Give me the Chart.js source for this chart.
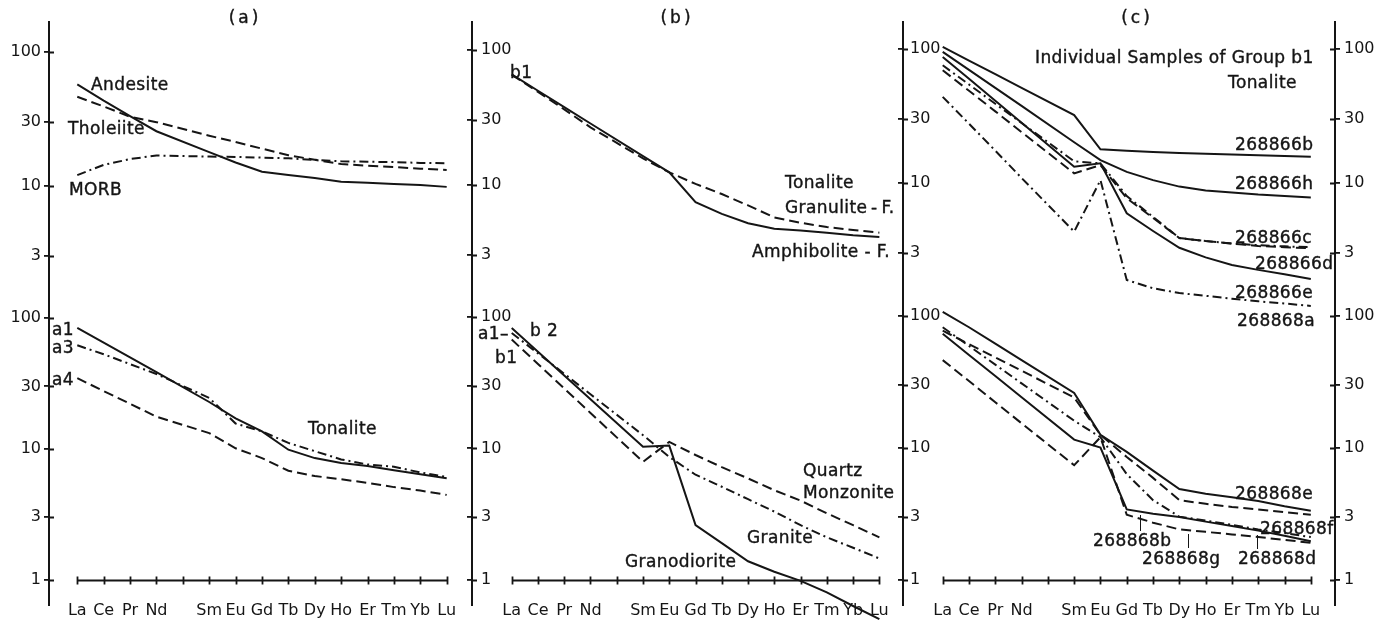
<!DOCTYPE html>
<html>
<head>
<meta charset="utf-8">
<script src="https://cdn.jsdelivr.net/npm/chart.js@4.4.1/dist/chart.umd.min.js"></script>
<style>
  html, body { margin: 0; padding: 0; background: #fff; }
  #wrap { position: relative; width: 1394px; height: 622px; overflow: hidden;
          font-family: "DejaVu Sans", sans-serif; color: #151515; }
  #wrap canvas { position: absolute; }
  .lbl { position: absolute; font-size: 17px; line-height: 18px; letter-spacing: 0.4px; white-space: pre;
         -webkit-text-stroke: 0.4px #151515; transform: translateY(-50%); }
  .lbl.c { transform: translate(-50%, -50%); letter-spacing: 3px; }
  .lead { position: absolute; width: 0; border-left: 1.6px solid #151515; }
</style>
</head>
<body>
<div id="wrap">
  <canvas id="aTop"></canvas>
  <canvas id="aBot"></canvas>
  <canvas id="bTop"></canvas>
  <canvas id="bBot"></canvas>
  <canvas id="cTop"></canvas>
  <canvas id="cBot"></canvas>
</div>
<script>
// 共通
const INK = "#151515";
const FONT = { family: "DejaVu Sans", size: 16 };

// 元素（Pm はデータなし）
const ELEMENTS = ["La", "Ce", "Pr", "Nd", "Pm", "Sm", "Eu", "Gd", "Tb", "Dy", "Ho", "Er", "Tm", "Yb", "Lu"];
const X_LABELS = ["La", "Ce", "Pr", "Nd", "", "Sm", "Eu", "Gd", "Tb", "Dy", "Ho", "Er", "Tm", "Yb", "Lu"];
const Y_TICKS = [1, 3, 10, 30, 100];

// 線種
const SOLID = [];
const DASHED = [10, 5];
const DASHDOT = [9, 4, 2, 4];

// (a) 上段
const andesite = [57, 43.1, 33.1, 25.5, null, 17.8, 14.9, 12.7, 12.0, 11.4, 10.7, 10.5, 10.3, 10.1, 9.8];
const tholeiite = [46.1, 39.0, 32.7, 29.8, null, 23.6, 21.2, 18.9, 16.9, 15.6, 14.5, 14.1, 13.8, 13.4, 13.1];
const morb = [12.0, 14.3, 15.8, 16.8, null, 16.5, 16.4, 16.2, 16.0, 15.6, 15.2, 15.1, 15.0, 14.8, 14.7];

// (a) 下段 Tonalite
const a1 = [84, 64.8, 50.0, 38.5, null, 22.8, 17.1, 13.6, 9.85, 8.5, 7.8, 7.4, 6.85, 6.4, 5.95];
const a3 = [61.8, 52.8, 44.4, 37.3, null, 24.5, 15.6, 13.6, 11.1, 9.6, 8.3, 7.6, 7.3, 6.6, 6.1];
const a4 = [34.7, 27.6, 22.1, 17.6, null, 13.2, 10.1, 8.5, 6.8, 6.2, 5.85, 5.5, 5.1, 4.8, 4.45];

// (b) 上段 Tonalite b1
const amphiboliteF = [65.4, 49.5, 37.4, 28.3, null, 16.2, 12.3, 7.4, 6.06, 5.16, 4.7, 4.57, 4.4, 4.2, 4.08];
const granuliteF = [65, 48.5, 36, 26.5, null, 15.6, 12.3, 10.1, 8.5, 7.0, 5.7, 5.2, 4.85, 4.6, 4.4];

// (b) 下段
const granodiorite = [82.6, 54.5, 35.9, 23.7, null, 10.3, 10.5, 2.6, 1.9, 1.38, 1.15, 0.98, 0.8, 0.63, 0.5];
const granite = [75.7, 52.9, 37, 25.8, null, 12.6, 8.6, 6.3, 5.1, 4.1, 3.3, 2.6, 2.1, 1.75, 1.45];
const quartzMonzonite = [67.4, 43.9, 28.6, 18.6, null, 7.9, 11.2, 8.9, 7.2, 5.9, 4.8, 4.0, 3.2, 2.6, 2.1];

// (c) 上段 268866
const s268866b = [103, 81.4, 64.4, 51.0, null, 32.0, 17.8, 17.4, 17.0, 16.7, 16.5, 16.3, 16.1, 15.9, 15.7];
const s268866h = [94.4, 69.3, 50.9, 37.4, null, 20.1, 14.8, 12.1, 10.5, 9.4, 8.8, 8.5, 8.2, 8.0, 7.8];
const s268866d = [86.6, 59.5, 40.9, 28.1, null, 13.2, 14.0, 5.95, 4.4, 3.3, 2.8, 2.46, 2.26, 2.1, 1.93];
const s268866c = [69, 48.5, 34.1, 23.9, null, 11.8, 13.6, 7.7, 5.5, 3.9, 3.7, 3.55, 3.4, 3.33, 3.27];
const s268868a = [75, 54, 38.8, 27.9, null, 14.5, 14.0, 8.0, 5.6, 3.9, 3.7, 3.55, 3.45, 3.38, 3.33];
const s268866e = [43.7, 27.6, 17.4, 10.9, null, 4.35, 10.5, 1.9, 1.65, 1.52, 1.45, 1.38, 1.32, 1.27, 1.22];

// (c) 下段 268868
const s268868e = [107, 81.8, 61.4, 46.1, null, 26.0, 12.5, 9.3, 6.7, 4.86, 4.48, 4.2, 3.94, 3.6, 3.33];
const s268868f = [77, 61, 48.3, 38.3, null, 24, 12.5, 8.5, 5.9, 4.0, 3.75, 3.55, 3.4, 3.25, 3.1];
const s268868d = [81.8, 59.0, 42.6, 30.7, null, 16, 12.0, 6.3, 4.0, 3.0, 2.8, 2.6, 2.4, 2.25, 2.1];
const s268868b = [73, 50.4, 34.9, 24.1, null, 11.5, 10.0, 3.4, 3.15, 2.98, 2.75, 2.55, 2.35, 2.15, 1.95];
const s268868g = [46.1, 32.0, 22.1, 15.3, null, 7.36, 12.0, 3.1, 2.7, 2.4, 2.3, 2.2, 2.1, 2.0, 1.9];

// パネル配置
const AXIS_A = [{ id: "y", pos: "left", width: 49, pad: 3 }];
const AXIS_B = [{ id: "y", pos: "left", width: 10, pad: 9, mirror: true }];
const AXIS_C = [
  { id: "y", pos: "left", width: 10, pad: 7, mirror: true },
  { id: "y2", pos: "right", width: 59, pad: 4 },
];

const PANELS = [
  { id: "aTop", x: 0, y: 0, w: 462, h: 330, xr: [-1.072, 14.58], p100: 51.7, dec: 134, axes: AXIS_A, bottom: false,
    lines: [[andesite, SOLID], [tholeiite, DASHED], [morb, DASHDOT]] },
  { id: "aBot", x: 0, y: 290, w: 462, h: 332, xr: [-1.072, 14.58], p100: 318.3, dec: 132.5, axes: AXIS_A, bottom: true,
    lines: [[a1, SOLID], [a3, DASHDOT], [a4, DASHED]] },
  { id: "bTop", x: 462, y: 0, w: 441, h: 330, xr: [-1.512, 14.90], p100: 49.5, dec: 135, axes: AXIS_B, bottom: false,
    lines: [[amphiboliteF, SOLID], [granuliteF, DASHED]] },
  { id: "bBot", x: 462, y: 290, w: 441, h: 332, xr: [-1.512, 14.90], p100: 317.3, dec: 132.5, axes: AXIS_B, bottom: true,
    lines: [[granodiorite, SOLID, true], [granite, DASHDOT], [quartzMonzonite, DASHED]] },
  { id: "cTop", x: 893, y: 0, w: 501, h: 330, xr: [-1.51, 14.92], p100: 48.5, dec: 134.5, axes: AXIS_C, bottom: false,
    lines: [[s268866b, SOLID], [s268866h, SOLID], [s268866d, SOLID], [s268866c, DASHED], [s268868a, DASHDOT], [s268866e, DASHDOT, true]] },
  { id: "cBot", x: 893, y: 290, w: 501, h: 332, xr: [-1.51, 14.92], p100: 316, dec: 133.2, axes: AXIS_C, bottom: true,
    lines: [[s268868e, SOLID], [s268868f, DASHED], [s268868d, DASHDOT], [s268868b, SOLID], [s268868g, DASHED]] },
];

// 注記テキスト
const LABELS = [
  ["(a)", 245, 17, "c"], ["(b)", 677, 17, "c"], ["(c)", 1137, 17, "c"],
  ["Andesite", 91, 84], ["Tholeiite", 68, 128], ["MORB", 69, 189],
  ["a1", 52, 329], ["a3", 52, 347], ["a4", 52, 379], ["Tonalite", 308, 428],
  ["b1", 510, 72], ["Tonalite", 785, 182], ["Granulite\u2009-\u2009F.", 785, 207], ["Amphibolite - F.", 752, 251],
  ["a1\u2013", 478, 333], ["b 2", 530, 330], ["b1", 495, 357],
  ["Quartz", 803, 470], ["Monzonite", 803, 492], ["Granite", 747, 537], ["Granodiorite", 625, 561],
  ["Individual Samples of Group b1", 1035, 57], ["Tonalite", 1228, 82],
  ["268866b", 1235, 144], ["268866h", 1235, 183], ["268866c", 1235, 237], ["268866d", 1255, 263],
  ["268866e", 1235, 292], ["268868a", 1237, 320],
  ["268868e", 1235, 493], ["268868f", 1260, 528], ["268868b", 1093, 540],
  ["268868g", 1142, 558], ["268868d", 1238, 558],
];
const LEADERS = [[1140, 515, 531], [1188, 534, 548], [1257, 535, 549]];

// 軸の十字目盛り、x 軸の基線、下段の縦軸の延長
const axisMarks = {
  id: "axisMarks",
  afterDraw(chart, args, opts) {
    const ctx = chart.ctx;
    const area = chart.chartArea;
    ctx.save();
    ctx.strokeStyle = INK;
    ctx.lineWidth = 1.8;
    ctx.beginPath();
    Object.values(chart.scales).forEach((s) => {
      if (s.axis !== "y") return;
      const x0 = s.position === "left" ? area.left : area.right;
      const dir = s.position === "left" ? 1 : -1;
      s.ticks.forEach((t) => {
        const y = Math.round(s.getPixelForValue(t.value)) + 0.5;
        ctx.moveTo(x0, y);
        ctx.lineTo(x0 + dir * 5, y);
      });
    });
    if (opts.baseline) {
      const xs = chart.scales.x;
      const y = Math.round(chart.scales.y.getPixelForValue(1)) + 0.5;
      ctx.moveTo(xs.getPixelForValue(0), y);
      ctx.lineTo(xs.getPixelForValue(ELEMENTS.length - 1), y);
      ELEMENTS.forEach((_, i) => {
        const x = Math.round(xs.getPixelForValue(i)) + 0.5;
        ctx.moveTo(x, y - 4);
        ctx.lineTo(x, y + 4);
      });
    }
    ctx.stroke();
    if (opts.baseline) {
      ctx.lineWidth = 2;
      ctx.beginPath();
      Object.values(chart.scales).forEach((s) => {
        if (s.axis !== "y") return;
        const x0 = s.position === "left" ? area.left : area.right;
        ctx.moveTo(x0, area.bottom);
        ctx.lineTo(x0, area.bottom + 6);
      });
      ctx.stroke();
    }
    ctx.restore();
  },
};

function toPoints(vals) {
  return vals.map((v, i) => ({ x: i, y: v })).filter((p) => p.y !== null);
}

function zeroPadding(s) {
  s.paddingTop = 0;
  s.paddingBottom = 0;
  s.paddingLeft = 0;
  s.paddingRight = 0;
}

function buildChart(p) {
  const cv = document.getElementById(p.id);
  cv.width = p.w;
  cv.height = p.h;
  cv.style.left = p.x + "px";
  cv.style.top = p.y + "px";

  // チャート領域の上下端（ページ座標）から対数軸の範囲を決める
  const top = p.bottom ? p.y : 22;
  const bottom = p.bottom ? 600 : 290;
  const yMax = Math.pow(10, 2 + (p.p100 - top) / p.dec);
  const yMin = Math.pow(10, 2 - (bottom - p.p100) / p.dec);
  const padBottom = p.bottom ? 0 : p.h - 290;

  const scales = {
    x: {
      type: "linear",
      min: p.xr[0],
      max: p.xr[1],
      display: p.bottom,
      grid: { display: false, drawTicks: false },
      border: { display: false },
      afterBuildTicks: (s) => { s.ticks = ELEMENTS.map((_, i) => ({ value: i })); },
      afterFit: (s) => { s.height = p.bottom ? 22 : 0; zeroPadding(s); },
      ticks: {
        autoSkip: false, maxRotation: 0, minRotation: 0, padding: 1, color: INK, font: FONT,
        callback: (v) => X_LABELS[v] ?? "",
      },
    },
  };
  p.axes.forEach((a) => {
    scales[a.id] = {
      type: "logarithmic",
      position: a.pos,
      min: yMin,
      max: yMax,
      afterBuildTicks: (s) => {
        s.ticks = Y_TICKS.filter((v) => v >= yMin && v <= yMax).map((v) => ({ value: v }));
      },
      afterFit: (s) => { s.width = a.width; zeroPadding(s); },
      grid: { drawOnChartArea: false, tickLength: 5, color: INK, lineWidth: 1.8 },
      border: { color: INK, width: 2 },
      ticks: { mirror: !!a.mirror, padding: a.pad, color: INK, font: FONT, callback: (v) => String(v) },
    };
  });

  return new Chart(cv, {
    type: "line",
    data: {
      datasets: p.lines.map(([vals, dash, noClip]) => {
        const ds = {
          data: toPoints(vals),
          borderColor: INK,
          borderWidth: 2,
          borderDash: dash,
          pointRadius: 0,
          fill: false,
          tension: 0,
        };
        if (noClip) ds.clip = false;
        return ds;
      }),
    },
    options: {
      responsive: false,
      animation: false,
      layout: { autoPadding: false, padding: { top: p.bottom ? 0 : 22, left: 0, right: 0, bottom: padBottom } },
      plugins: {
        legend: { display: false },
        tooltip: { enabled: false },
        axisMarks: { baseline: p.bottom },
      },
      scales: scales,
    },
    plugins: [axisMarks],
  });
}

function addLabels() {
  const wrap = document.getElementById("wrap");
  LABELS.forEach(([text, x, y, mode]) => {
    const d = document.createElement("div");
    d.className = "lbl" + (mode === "c" ? " c" : "");
    d.textContent = text;
    d.style.left = x + "px";
    d.style.top = y + "px";
    wrap.appendChild(d);
  });
  LEADERS.forEach(([x, y0, y1]) => {
    const d = document.createElement("div");
    d.className = "lead";
    d.style.left = x + "px";
    d.style.top = y0 + "px";
    d.style.height = (y1 - y0) + "px";
    wrap.appendChild(d);
  });
}

Chart.defaults.font.family = "DejaVu Sans";
PANELS.forEach(buildChart);
addLabels();
</script>
</body>
</html>
